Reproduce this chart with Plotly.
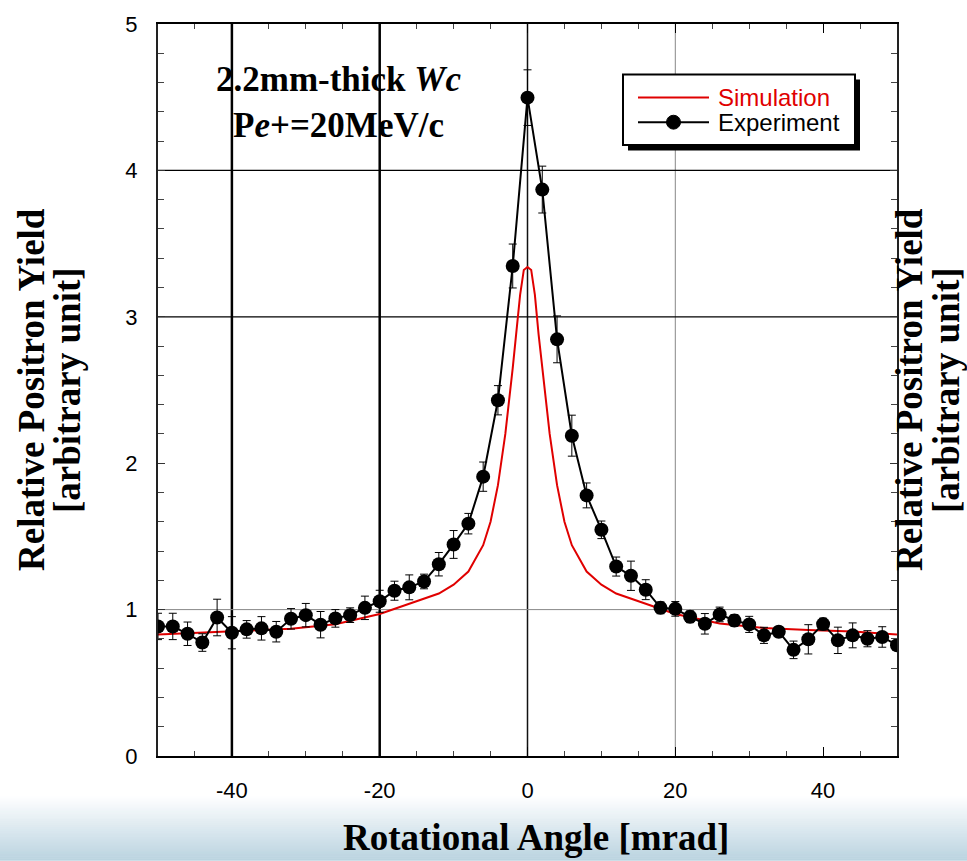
import plotly.graph_objects as go

# ---------------- data ----------------
exp_x = [-50, -48, -46, -44, -42, -40, -38, -36, -34, -32, -30, -28, -26, -24, -22, -20,
         -18, -16, -14, -12, -10, -8, -6, -4, -2, 0, 2, 4, 6, 8, 10, 12, 14, 16, 18, 20,
         22, 24, 26, 28, 30, 32, 34, 36, 38, 40, 42, 44, 46, 48, 50]
exp_y = [0.885, 0.885, 0.835, 0.775, 0.946, 0.842, 0.865, 0.872, 0.849, 0.937, 0.962, 0.897,
         0.940, 0.962, 1.012, 1.057, 1.129, 1.152, 1.192, 1.310, 1.445, 1.587, 1.908, 2.430,
         3.347, 4.497, 3.869, 2.846, 2.188, 1.780, 1.545, 1.294, 1.231, 1.136, 1.012, 1.005,
         0.951, 0.903, 0.967, 0.926, 0.899, 0.824, 0.849, 0.725, 0.797, 0.901, 0.790, 0.824,
         0.801, 0.813, 0.757]
exp_err = [0.09, 0.09, 0.08, 0.06, 0.125, 0.11, 0.06, 0.08, 0.07, 0.07, 0.08, 0.09, 0.06,
           0.05, 0.08, 0.075, 0.065, 0.085, 0.05, 0.08, 0.095, 0.07, 0.10, 0.10, 0.15, 0.19,
           0.16, 0.16, 0.14, 0.085, 0.06, 0.065, 0.10, 0.068, 0.04, 0.05, 0.04, 0.07, 0.05,
           0.04, 0.055, 0.055, 0.035, 0.06, 0.10, 0.04, 0.09, 0.085, 0.055, 0.07, 0.03]

sim_x = [-50, -44, -38, -32, -26, -20, -16, -12, -10, -8, -6, -5, -4, -3, -2, -1.5, -1, -0.5,
         0, 0.5, 1, 1.5, 2, 3, 4, 5, 6, 8, 10, 12, 16, 20, 26, 32, 38, 44, 50]
sim_y = [0.83, 0.845, 0.858, 0.87, 0.90, 0.97, 1.04, 1.11, 1.17, 1.26, 1.44, 1.60, 1.85, 2.20,
         2.65, 2.88, 3.15, 3.32, 3.34, 3.32, 3.15, 2.88, 2.65, 2.20, 1.85, 1.60, 1.44, 1.26,
         1.17, 1.11, 1.04, 0.97, 0.905, 0.875, 0.86, 0.85, 0.83]

x_ticks = [-40, -20, 0, 20, 40]
y_ticks = [0, 1, 2, 3, 4, 5]

# ---------------- layout geometry ----------------
W, H = 967, 861
ML, MR, MT, MB = 158, 70, 18, 105
PW, PH = W - ML - MR, H - MT - MB

def px2paper_x(px):
    return (px - ML) / PW

def px2paper_y(py):
    return (H - MB - py) / PH

SERIF = "Liberation Serif, Times New Roman, serif"
SANS = "Liberation Sans, Arial, sans-serif"
RED = "#e00000"

fig = go.Figure()

fig.add_trace(go.Scatter(
    x=sim_x, y=sim_y, mode="lines",
    line=dict(color=RED, width=2),
    name="Simulation", showlegend=False,
))
fig.add_trace(go.Scatter(
    x=exp_x, y=exp_y, mode="lines+markers",
    line=dict(color="black", width=2),
    marker=dict(color="black", size=14),
    error_y=dict(type="data", array=exp_err, color="black", thickness=1, width=4),
    name="Experiment", showlegend=False,
))

shapes = []
# bottom gradient background (slide background)
n = 33
top_px, bot_px = 796, 861
c0 = (255, 255, 255)
c1 = (186, 211, 224)
for i in range(n):
    y0p = top_px + (bot_px - top_px) * i / n
    y1p = top_px + (bot_px - top_px) * (i + 1) / n
    t = (i + 0.5) / n
    col = tuple(round(c0[k] + (c1[k] - c0[k]) * t) for k in range(3))
    shapes.append(dict(type="rect", xref="paper", yref="paper",
                       x0=px2paper_x(-5), x1=px2paper_x(W + 5),
                       y0=px2paper_y(y1p + 0.6), y1=px2paper_y(y0p),
                       fillcolor="rgb(%d,%d,%d)" % col, line=dict(width=0), layer="below"))

# grid lines (as in original, irregular styles)
def vline(x, color, width):
    shapes.append(dict(type="line", xref="x", yref="y", x0=x, x1=x, y0=0, y1=5,
                       line=dict(color=color, width=width), layer="below"))

def hline(y, color, width):
    shapes.append(dict(type="line", xref="x", yref="y", x0=-50, x1=50, y0=y, y1=y,
                       line=dict(color=color, width=width), layer="below"))

vline(-40, "black", 2.5)
vline(-20, "black", 2.5)
vline(0, "#111111", 1.5)
vline(20, "#888888", 1)
hline(1, "#888888", 1)
hline(3, "black", 1.2)
hline(4, "black", 1.2)

# legend box (drawn by hand, with drop shadow)
def prect(x0, y0, x1, y1, **kw):
    shapes.append(dict(type="rect", xref="paper", yref="paper",
                       x0=px2paper_x(x0), x1=px2paper_x(x1),
                       y0=px2paper_y(y1), y1=px2paper_y(y0), layer="above", **kw))

def pline(x0, y0, x1, y1, color, width):
    shapes.append(dict(type="line", xref="paper", yref="paper",
                       x0=px2paper_x(x0), x1=px2paper_x(x1),
                       y0=px2paper_y(y0), y1=px2paper_y(y1),
                       line=dict(color=color, width=width), layer="above"))

prect(628, 74, 860, 145.5, fillcolor="black", line=dict(width=0))
prect(623, 69, 855, 140, fillcolor="white", line=dict(color="black", width=2))
pline(638, 92, 709, 92, RED, 2)
pline(638, 117, 709, 117, "black", 2)
shapes.append(dict(type="circle", xref="paper", yref="paper",
                   x0=px2paper_x(666.5), x1=px2paper_x(680.5),
                   y0=px2paper_y(124), y1=px2paper_y(110),
                   fillcolor="black", line=dict(color="black", width=1), layer="above"))

annotations = [
    dict(text="<b>2.2mm-thick <i>Wc</i></b><br><b>P<i>e</i>+=20MeV/c</b>",
         x=-25.6, y=(756 - 97) / 147.6, xref="x", yref="y",
         xanchor="center", yanchor="middle", align="center", showarrow=False,
         font=dict(family=SERIF, size=35, color="black")),
    dict(text="Simulation", x=px2paper_x(716), y=px2paper_y(92), xref="paper", yref="paper",
         xanchor="left", yanchor="middle", showarrow=False,
         font=dict(family=SANS, size=24, color=RED)),
    dict(text="Experiment", x=px2paper_x(716), y=px2paper_y(117), xref="paper", yref="paper",
         xanchor="left", yanchor="middle", showarrow=False,
         font=dict(family=SANS, size=24, color="black")),
    dict(text="<b>Rotational Angle [mrad]</b>", x=px2paper_x(536), y=px2paper_y(838),
         xref="paper", yref="paper", xanchor="center", yanchor="middle", showarrow=False,
         font=dict(family=SERIF, size=37, color="black")),
    dict(text="<b>Relative Positron Yield</b>", x=px2paper_x(31), y=0.5, xref="paper",
         yref="paper", xanchor="center", yanchor="middle", textangle=-90, showarrow=False,
         font=dict(family=SERIF, size=37, color="black")),
    dict(text="<b>[arbitrary unit]</b>", x=px2paper_x(67), y=0.5, xref="paper",
         yref="paper", xanchor="center", yanchor="middle", textangle=-90, showarrow=False,
         font=dict(family=SERIF, size=37, color="black")),
    dict(text="<b>Relative Positron Yield</b>", x=px2paper_x(909), y=0.5, xref="paper",
         yref="paper", xanchor="center", yanchor="middle", textangle=-90, showarrow=False,
         font=dict(family=SERIF, size=37, color="black")),
    dict(text="<b>[arbitrary unit]</b>", x=px2paper_x(946), y=0.5, xref="paper",
         yref="paper", xanchor="center", yanchor="middle", textangle=-90, showarrow=False,
         font=dict(family=SERIF, size=37, color="black")),
]

fig.update_layout(
    width=W, height=H,
    margin=dict(l=ML, r=MR, t=MT, b=MB, pad=0),
    paper_bgcolor="white", plot_bgcolor="white",
    showlegend=False,
    shapes=shapes,
    annotations=annotations,
    xaxis=dict(range=[-50, 50], tickmode="array", tickvals=x_ticks,
               ticktext=[str(v) for v in x_ticks],
               showgrid=False, zeroline=False, showline=True, linecolor="black",
               linewidth=2, mirror="ticks", ticks="inside", ticklen=9, tickwidth=1,
               tickcolor="black", ticklabelstandoff=14,
               tickfont=dict(family=SANS, size=22, color="black"),
               minor=dict(dtick=5, tick0=0, ticks="inside", ticklen=5, tickcolor="#444",
                          showgrid=False)),
    yaxis=dict(range=[0, 5], tickmode="array", tickvals=y_ticks,
               ticktext=[str(v) for v in y_ticks],
               showgrid=False, zeroline=False, showline=True, linecolor="#222222",
               linewidth=2, mirror="ticks", ticks="inside", ticklen=7, tickwidth=1,
               tickcolor="#333", ticklabelstandoff=14,
               tickfont=dict(family=SANS, size=22, color="black"),
               minor=dict(dtick=0.2, tick0=0, ticks="inside", ticklen=6, tickcolor="#444",
                          showgrid=False)),
)

fig.write_html("out.html", config={"displayModeBar": False},
               post_script="document.body.style.margin='0px';")
